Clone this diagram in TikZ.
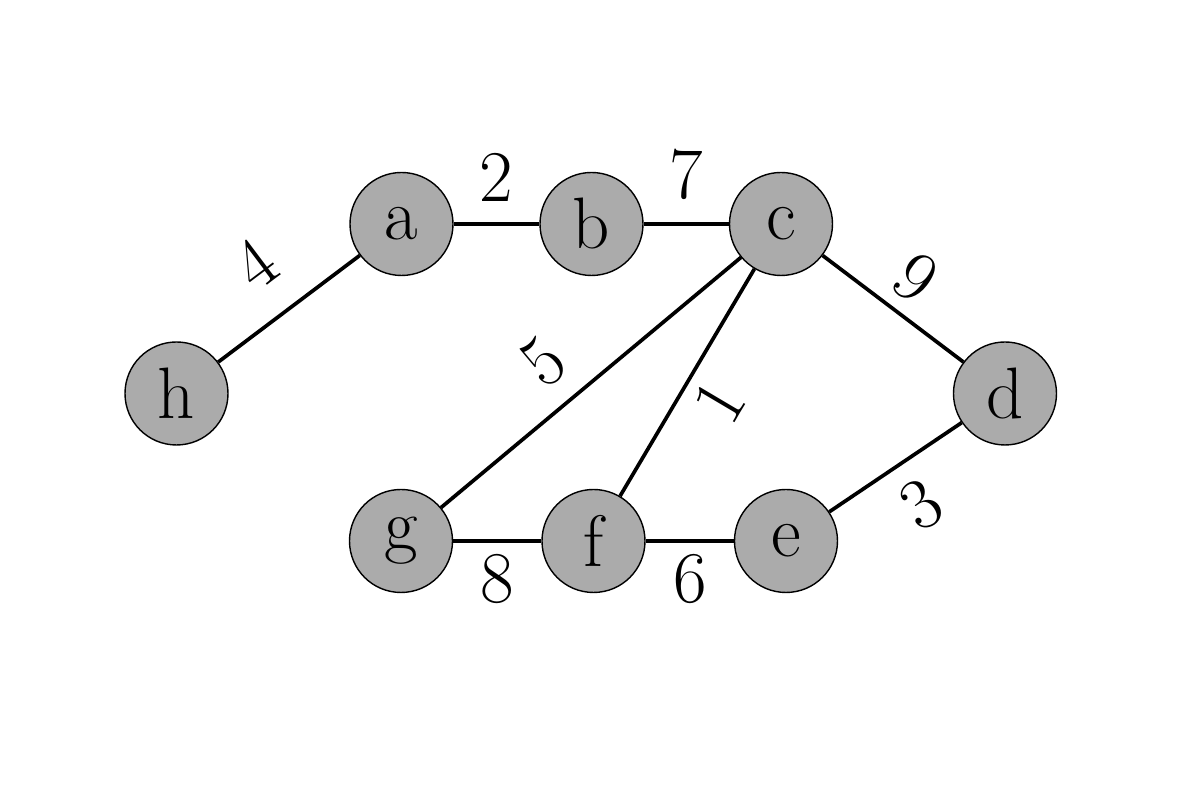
\documentclass[tikz,border=0pt]{standalone}
\begin{document}
\begin{tikzpicture}[x=1cm, y=1cm, line width=1.05pt,
    vertex/.style={circle, draw=black, thin, fill=black!33, minimum size=10.3mm, inner sep=0pt, font=\huge},
    weight/.style={font=\huge, sloped, midway}]
  \useasboundingbox (0,0) rectangle (12,8);
  % vertices
  \node[vertex] (h) at (1.765,4.065) {h};
  \node[vertex] (a) at (4.015,5.76) {a};
  \node[vertex] (b) at (5.915,5.76) {b};
  \node[vertex] (c) at (7.81,5.76) {c};
  \node[vertex] (d) at (10.05,4.065) {d};
  \node[vertex] (g) at (4.01,2.59) {g};
  \node[vertex] (f) at (5.935,2.59) {f};
  \node[vertex] (e) at (7.86,2.59) {e};
  % weighted edges
  \draw (h) -- node[weight, above=5pt] {4} (a);
  \draw (a) -- node[weight, above=2.5pt] {2} (b);
  \draw (b) -- node[weight, above=3pt] {7} (c);
  \draw (c) -- node[weight, above] {9} (d);
  \draw (g) -- node[weight, above=2.5pt, pos=0.44] {5} (c);
  \draw (f) -- node[weight, below] {1} (c);
  \draw (e) -- node[weight, below=2pt] {3} (d);
  \draw (g) -- node[weight, below] {8} (f);
  \draw (f) -- node[weight, below] {6} (e);
\end{tikzpicture}
\end{document}
